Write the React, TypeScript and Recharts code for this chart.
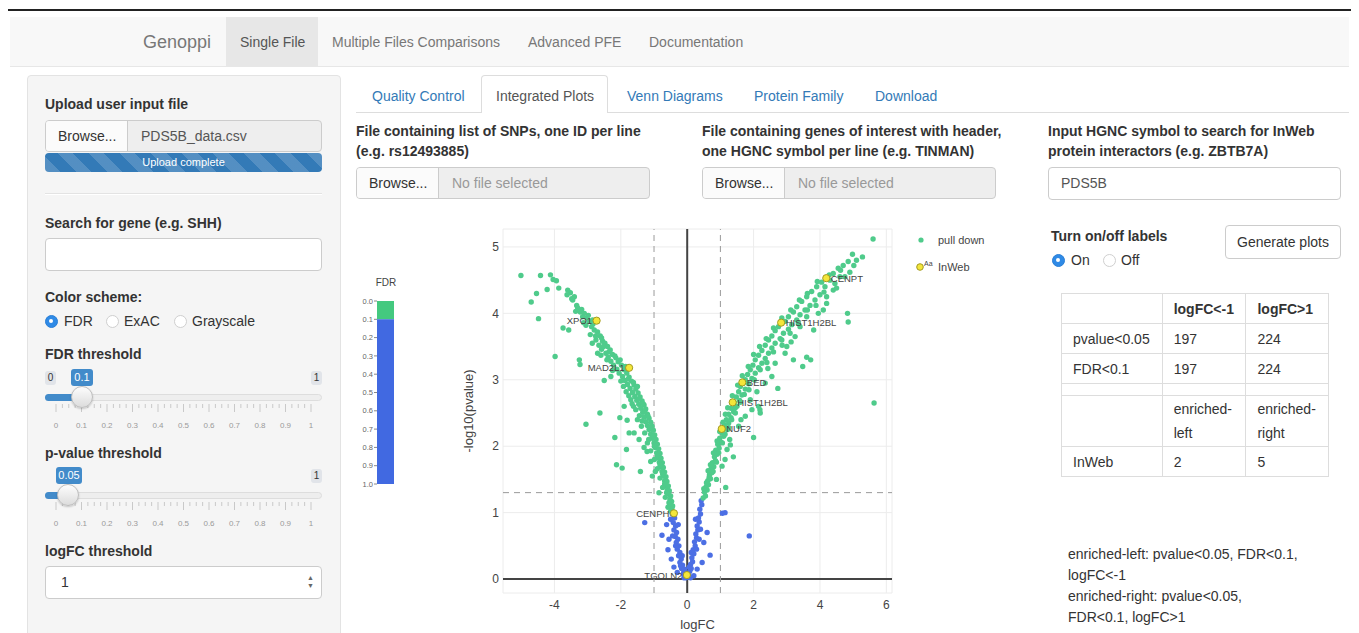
import React from "react";
import {
  ScatterChart,
  Scatter,
  XAxis,
  YAxis,
  CartesianGrid,
  ReferenceLine,
  BarChart,
  Bar,
} from "recharts";

// volcano plot values: [logFC, -log10(pvalue)]
// FDR < 0.1 (green)
const sigLeft: [number, number][] = [
  [-5.01, 4.57], [-4.42, 4.57], [-4.12, 4.58], [-4.04, 4.51], [-3.94, 4.49], [-3.87, 4.38],
  [-4.22, 4.36], [-4.54, 4.3], [-4.7, 4.17], [-4.48, 3.92], [-3.52, 4.31], [-3.45, 4.2],
  [-3.33, 4.12], [-3.74, 3.78], [-3.57, 3.75], [-3.98, 3.35], [-3.25, 3.3], [-3.23, 3.23],
  [-2.5, 2.99], [-3.05, 2.33], [-2.63, 2.5], [-2.18, 2.13], [-2.03, 2.43], [-1.81, 2.39],
  [-1.83, 1.95], [-2.13, 1.72], [-1.96, 1.67], [-1.41, 1.62], [-1.1, 1.77], [-0.96, 1.62],
  [-1.21, 1.92], [-3.3, 4.08], [-3.22, 4.02], [-3.1, 4.0], [-3.15, 3.95], [-3.02, 3.93],
  [-2.95, 3.88], [-3.05, 3.82], [-2.88, 3.8], [-2.8, 3.75], [-2.7, 3.72], [-2.92, 3.68],
  [-2.62, 3.66], [-2.75, 3.6], [-2.55, 3.58], [-2.48, 3.55], [-2.66, 3.52], [-2.4, 3.5],
  [-2.58, 3.46], [-2.32, 3.45], [-2.45, 3.4], [-2.25, 3.38], [-2.38, 3.34], [-2.15, 3.33],
  [-2.3, 3.28], [-2.08, 3.27], [-2.22, 3.22], [-1.98, 3.22], [-2.12, 3.16], [-1.9, 3.15],
  [-2.05, 3.1], [-1.82, 3.1], [-1.95, 3.05], [-1.75, 3.04], [-1.88, 2.99], [-1.68, 2.98],
  [-1.8, 2.93], [-1.6, 2.92], [-1.72, 2.87], [-1.55, 2.86], [-1.65, 2.81], [-1.48, 2.8],
  [-1.58, 2.75], [-1.42, 2.74], [-1.52, 2.69], [-1.36, 2.68], [-1.46, 2.63], [-1.3, 2.62],
  [-1.4, 2.57], [-1.25, 2.56], [-1.34, 2.51], [-1.62, 2.6], [-1.7, 2.7], [-1.2, 2.48],
  [-1.3, 2.44], [-1.15, 2.42], [-1.25, 2.37], [-1.1, 2.36], [-1.2, 2.31], [-1.06, 2.3],
  [-1.15, 2.25], [-1.02, 2.24], [-1.38, 2.3], [-1.5, 2.4], [-1.1, 2.18], [-0.98, 2.17],
  [-1.05, 2.12], [-0.94, 2.1], [-1.0, 2.05], [-0.9, 2.03], [-0.96, 1.98], [-0.86, 1.96],
  [-1.2, 2.05], [-1.3, 1.98], [-0.92, 1.9], [-0.82, 1.89], [-0.88, 1.83], [-0.79, 1.82],
  [-0.84, 1.76], [-0.75, 1.75], [-0.8, 1.69], [-0.72, 1.68], [-0.76, 1.62], [-0.68, 1.61],
  [-0.72, 1.55], [-0.64, 1.54], [-0.68, 1.48], [-0.61, 1.47], [-0.64, 1.41], [-0.57, 1.4],
  [-0.6, 1.34], [-0.54, 1.33], [-0.56, 1.28], [-0.5, 1.25], [-0.52, 1.2], [-0.47, 1.17],
  [-0.49, 1.12], [-0.44, 1.1], [-0.46, 1.06], [-2.85, 3.9], [-3.4, 4.25], [-3.6, 4.35],
  [-3.62, 4.28], [-3.48, 4.22], [-3.18, 4.06], [-3.36, 4.03], [-2.98, 3.97], [-3.12, 3.86],
  [-2.84, 3.84], [-2.76, 3.66], [-2.58, 3.63], [-2.86, 3.55], [-2.52, 3.5], [-2.36, 3.42],
  [-2.6, 3.37], [-2.18, 3.36], [-2.42, 3.3], [-2.02, 3.3], [-2.25, 3.14], [-1.86, 3.2],
  [-2.0, 2.98], [-1.78, 3.01], [-1.92, 2.9], [-1.62, 2.96], [-1.84, 2.82], [-1.5, 2.9],
  [-1.76, 2.76], [-1.45, 2.71], [-1.66, 2.64], [-1.33, 2.64], [-1.55, 2.55], [-1.28, 2.52],
  [-1.44, 2.46], [-1.18, 2.45], [-1.36, 2.38], [-1.12, 2.28], [-1.28, 2.2], [-1.04, 2.15],
  [-1.16, 2.1], [-0.99, 2.0], [-1.1, 1.93], [-0.9, 1.86], [-0.99, 1.8], [-0.82, 1.72],
  [-0.9, 1.66], [-0.74, 1.58], [-0.82, 1.52], [-0.68, 1.43], [-0.74, 1.38], [-0.62, 1.3],
  [-0.66, 1.23], [-0.55, 1.15], [-0.58, 1.08], [-0.5, 1.02], [-1.6, 2.2], [-1.75, 2.2],
  [-2.3, 3.05], [-2.7, 3.4], [-1.9, 2.6], [-1.45, 2.1], [-1.05, 1.55], [-0.85, 1.3],
];

const sigRight: [number, number][] = [
  [5.6, 5.12], [4.98, 4.89], [5.28, 4.85], [5.1, 4.8], [4.85, 4.78], [4.7, 4.72],
  [4.55, 4.68], [4.9, 4.62], [4.4, 4.6], [4.6, 4.55], [4.3, 4.5], [4.05, 4.47],
  [4.15, 4.4], [3.9, 4.4], [4.4, 4.35], [3.75, 4.33], [4.0, 4.28], [3.6, 4.25],
  [3.85, 4.2], [3.45, 4.18], [4.2, 4.15], [3.7, 4.12], [3.3, 4.1], [3.55, 4.05],
  [3.2, 4.02], [3.95, 4.0], [3.4, 3.98], [3.05, 3.95], [3.3, 3.9], [2.95, 3.88],
  [3.15, 3.83], [2.75, 3.8], [3.05, 3.76], [2.65, 3.74], [2.9, 3.7], [2.55, 3.66],
  [2.8, 3.62], [2.45, 3.6], [2.65, 3.55], [2.35, 3.52], [2.55, 3.48], [2.25, 3.44],
  [2.45, 3.4], [2.15, 3.37], [2.35, 3.32], [2.05, 3.3], [2.25, 3.25], [1.98, 3.22],
  [2.15, 3.18], [1.9, 3.15], [2.05, 3.1], [1.82, 3.08], [1.95, 3.02], [1.75, 3.0],
  [1.85, 2.94], [1.6, 2.9], [1.75, 2.86], [1.55, 2.82], [1.65, 2.77], [1.48, 2.74],
  [1.58, 2.69], [1.42, 2.66], [1.5, 2.6], [1.32, 2.57], [1.4, 2.52], [1.25, 2.48],
  [1.32, 2.43], [1.18, 2.4], [1.25, 2.35], [1.12, 2.32], [1.18, 2.26], [1.05, 2.2],
  [1.1, 2.15], [0.98, 2.12], [1.02, 2.06], [0.92, 2.03], [0.96, 1.97], [0.86, 1.94],
  [0.9, 1.88], [0.82, 1.84], [0.85, 1.78], [0.76, 1.75], [0.8, 1.69], [0.72, 1.66],
  [0.74, 1.6], [0.67, 1.57], [0.7, 1.51], [0.62, 1.48], [0.64, 1.42], [0.57, 1.39],
  [0.6, 1.34], [0.52, 1.31], [0.55, 1.25], [0.48, 1.22], [2.2, 2.5], [2.15, 2.6],
  [2.0, 2.13], [1.39, 1.84], [1.14, 1.8], [1.16, 1.38], [2.43, 3.17], [2.73, 2.87],
  [3.13, 3.57], [3.48, 3.2], [3.6, 3.34], [3.72, 3.3], [3.81, 3.75], [4.83, 4.0],
  [4.85, 3.87], [5.63, 2.65], [2.19, 2.55], [1.9, 2.7], [2.55, 3.05], [2.95, 3.4],
  [3.25, 3.65], [3.6, 3.95], [4.2, 4.25], [4.45, 4.45], [1.75, 2.45], [1.55, 2.3],
  [1.28, 2.1], [1.2, 1.95], [2.85, 3.6], [3.4, 3.8], [1.22, 2.25], [1.45, 2.5],
  [0.5, 1.36], [0.58, 1.45], [0.66, 1.53], [0.63, 1.63], [0.78, 1.62], [0.7, 1.72],
  [0.88, 1.76], [0.79, 1.9], [0.95, 1.9], [0.9, 2.08], [1.06, 2.05], [0.98, 2.22],
  [1.14, 2.18], [1.08, 2.36], [1.25, 2.28], [1.15, 2.48], [1.34, 2.4], [1.22, 2.58],
  [1.45, 2.58], [1.36, 2.76], [1.6, 2.66], [1.52, 2.92], [1.72, 2.78], [1.66, 3.06],
  [1.86, 2.85], [1.84, 3.2], [2.02, 3.0], [2.0, 3.38], [2.2, 3.15], [2.18, 3.5],
  [2.4, 3.26], [2.38, 3.62], [2.6, 3.42], [2.6, 3.78], [2.86, 3.52], [2.85, 3.93],
  [3.1, 3.7], [3.12, 4.05], [3.35, 3.85], [3.38, 4.2], [3.62, 4.05], [3.62, 4.3],
  [3.88, 4.12], [3.92, 4.48], [4.12, 4.32], [4.28, 4.58], [4.5, 4.38], [4.62, 4.65],
  [4.75, 4.55], [5.02, 4.72], [1.95, 2.55], [2.35, 2.95], [2.65, 3.25], [3.0, 3.5],
  [1.62, 2.4], [1.3, 2.02], [1.05, 1.7], [0.88, 1.5], [2.1, 2.82], [3.2, 3.3],
  [4.1, 4.05],
];

// FDR >= 0.1 (blue)
const nonSig: [number, number][] = [
  [-0.45, 0.98], [-0.38, 0.92], [-0.42, 0.85], [-0.35, 0.8], [-0.4, 0.74], [-0.32, 0.7],
  [-0.36, 0.64], [-0.28, 0.6], [-0.33, 0.55], [-0.25, 0.5], [-0.3, 0.45], [-0.22, 0.4],
  [-0.26, 0.35], [-0.18, 0.3], [-0.22, 0.25], [-0.14, 0.21], [-0.17, 0.16], [-0.1, 0.12],
  [-0.12, 0.08], [-0.06, 0.05], [-0.04, 0.02], [-1.28, 0.85], [-0.76, 0.66], [-0.62, 0.82],
  [-0.55, 0.6], [-0.5, 0.9], [-0.58, 0.44], [-0.48, 0.3], [-0.4, 0.18], [-0.3, 0.1],
  [0.02, 0.03], [0.05, 0.08], [0.08, 0.12], [0.12, 0.16], [0.1, 0.22], [0.16, 0.26],
  [0.14, 0.32], [0.2, 0.38], [0.18, 0.44], [0.24, 0.5], [0.22, 0.56], [0.28, 0.62],
  [0.26, 0.68], [0.32, 0.74], [0.3, 0.8], [0.36, 0.86], [0.34, 0.92], [0.4, 0.98],
  [0.38, 1.05], [0.44, 1.12], [0.42, 1.18], [1.14, 1.0], [1.06, 0.99], [1.87, 0.65],
  [0.69, 0.36], [0.5, 0.55], [0.45, 0.25], [0.3, 0.15], [0.6, 0.7], [0.2, 0.05],
  [-0.2, 0.2], [-0.08, 0.15], [0.06, 0.18], [-0.35, 0.5], [0.28, 0.45], [-0.44, 0.65],
  [0.36, 0.6], [-0.15, 0.35], [0.12, 0.4], [0.4, 0.75], [-0.27, 0.82], [0.25, 0.9],
  [-0.1, 0.02], [0.1, 0.02],
];

// InWeb interactors of PDS5B
const inwebGenes = ["XPO1", "MAD2L1", "CENPH", "TGOLN2", "CENPT", "HIST1H2BL", "BED", "HIST1H2BL", "NUF2"];
const inwebLogFC = [-2.73, -1.75, -0.4, -0.01, 4.19, 2.83, 1.66, 1.37, 1.04];
const inwebLogP = [3.89, 3.18, 0.99, 0.06, 4.53, 3.86, 2.96, 2.66, 2.26];

const xTicks = [-4, -2, 0, 2, 4, 6];
const yTicks = [0, 1, 2, 3, 4, 5];
const fdrTicks = [0, 0.1, 0.2, 0.3, 0.4, 0.5, 0.6, 0.7, 0.8, 0.9, 1];
const fdrCut = 0.1;
const pvalCut = 0.05;
const logfcCut = 1;
const sliderLabels = ["0", "0.1", "0.2", "0.3", "0.4", "0.5", "0.6", "0.7", "0.8", "0.9", "1"];

const tableHead = ["", "logFC<-1", "logFC>1"];
const tableRows = [
  ["pvalue<0.05", "197", "224"],
  ["FDR<0.1", "197", "224"],
];
const inwebRow = ["InWeb", "2", "5"];

const navItems = ["Single File", "Multiple Files Comparisons", "Advanced PFE", "Documentation"];
const tabItems = ["Quality Control", "Integrated Plots", "Venn Diagrams", "Protein Family", "Download"];

const FONT = "'Liberation Sans', Arial, Helvetica, sans-serif";
const GREEN = "#4fcb8b";
const BLUE = "#4c6fe4";
const LINK = "#337ab7";

const toPts = (arr: [number, number][]) => arr.map(([x, y]) => ({ x, y }));
const inwebData = inwebGenes.map((g, i) => ({ x: inwebLogFC[i], y: inwebLogP[i], label: g }));
const fdrBar = [{ name: "FDR", sig: fdrCut, ns: 1 - fdrCut }];

const Txt = ({ x, y, children, bold, size = 14, color = "#333", center }: any) => (
  <div
    style={{
      position: "absolute",
      left: x,
      top: y - 10,
      lineHeight: "20px",
      fontSize: size,
      fontWeight: bold ? 700 : 400,
      color,
      whiteSpace: "nowrap",
      transform: center ? "translateX(-50%)" : undefined,
    }}
  >
    {children}
  </div>
);

const Box = ({ x, y, w, h, style, children }: any) => (
  <div style={{ position: "absolute", left: x, top: y, width: w, height: h, boxSizing: "border-box", ...style }}>
    {children}
  </div>
);

const Radio = ({ x, y, on }: any) => (
  <div
    style={{
      position: "absolute",
      left: x - 6.5,
      top: y - 6.5,
      width: 13,
      height: 13,
      borderRadius: "50%",
      boxSizing: "border-box",
      background: on ? "#2f8ae6" : "#fff",
      border: on ? "1px solid #2a7fd6" : "1px solid #cfcfcf",
    }}
  >
    {on && (
      <div style={{ position: "absolute", left: 3.5, top: 3.5, width: 4, height: 4, borderRadius: "50%", background: "#fff" }} />
    )}
  </div>
);

const FileInput = ({ x, y, w, text, textColor }: any) => (
  <Box x={x} y={y} w={w} h={32} style={{ border: "1px solid #ccc", borderRadius: 4, background: "#eee", overflow: "hidden" }}>
    <div style={{ position: "absolute", left: 0, top: 0, width: 82, height: 30, background: "#fbfbfb", borderRight: "1px solid #ccc", lineHeight: "30px", paddingLeft: 12, boxSizing: "border-box", color: "#333" }}>
      Browse...
    </div>
    <div style={{ position: "absolute", left: 95, top: 0, lineHeight: "30px", color: textColor }}>{text}</div>
  </Box>
);

const Slider = ({ trackY, handleX, value, valueX, valueW, showZero }: any) => {
  const left = 45;
  const right = 322;
  const t0 = 56;
  const step = 25.5;
  const minor = Array.from({ length: 41 }, (_, i) => i);
  return (
    <>
      {showZero && (
        <Box x={45} y={trackY - 26} w={11} h={14} style={{ background: "#e1e4e9", borderRadius: 3, fontSize: 10, color: "#333", textAlign: "center", lineHeight: "14px" }}>0</Box>
      )}
      <Box x={valueX} y={trackY - 28} w={valueW} h={17} style={{ background: "#428bca", borderRadius: 3, fontSize: 11, color: "#fff", textAlign: "center", lineHeight: "17px" }}>{value}</Box>
      <Box x={311} y={trackY - 26} w={11} h={14} style={{ background: "#e1e4e9", borderRadius: 3, fontSize: 10, color: "#333", textAlign: "center", lineHeight: "14px" }}>1</Box>
      <Box x={left} y={trackY - 3.5} w={right - left} h={7} style={{ background: "#eee", border: "1px solid #ddd", borderRadius: 4 }} />
      <Box x={left} y={trackY - 3.5} w={handleX - left} h={7} style={{ background: "#428bca", borderRadius: 4 }} />
      <svg style={{ position: "absolute", left: 0, top: trackY + 5, overflow: "visible" }} width={340} height={30}>
        {minor.map((i) => {
          const x = t0 + (i * step) / 4;
          const major = i % 4 === 0;
          return <line key={i} x1={x} x2={x} y1={2} y2={major ? 10 : 6} stroke="#c9c9c9" strokeWidth={1} />;
        })}
        {sliderLabels.map((l, i) => (
          <text key={l} x={t0 + i * step} y={26} fontSize={8} fill="#9a9a9a" textAnchor="middle" fontFamily={FONT}>
            {l}
          </text>
        ))}
      </svg>
      <Box x={handleX - 11} y={trackY - 11} w={22} h={22} style={{ borderRadius: "50%", background: "linear-gradient(#fdfdfd, #dcdcdc)", border: "1px solid #bdbdbd", boxShadow: "0 1px 2px rgba(0,0,0,0.2)" }} />
    </>
  );
};

const Dot = (color: string, r: number) => (p: any) => <circle cx={p.cx} cy={p.cy} r={r} fill={color} />;

const InWebDot = (p: any) => {
  const left = p.payload.x < 0;
  return (
    <g>
      <circle cx={p.cx} cy={p.cy} r={3.6} fill="#f4e63a" stroke="#a39a22" strokeWidth={1} />
      <text x={left ? p.cx - 4.5 : p.cx + 4.5} y={p.cy + 3.5} textAnchor={left ? "end" : "start"} fontSize={9.5} fill="#444" fontFamily={FONT}>
        {p.payload.label}
      </text>
    </g>
  );
};

const Volcano = () => (
  <div style={{ position: "absolute", left: 433, top: 220 }}>
    <ScatterChart width={467} height={413} margin={{ top: 9, right: 8, left: 0, bottom: 0 }}>
      <CartesianGrid stroke="#ececec" strokeWidth={1} />
      <XAxis
        type="number"
        dataKey="x"
        domain={[-5.55, 6.17]}
        ticks={xTicks}
        allowDataOverflow
        axisLine={false}
        tickLine={false}
        tickSize={0}
        tickMargin={7}
        height={40}
        tick={{ fontSize: 12, fill: "#444", fontFamily: FONT }}
        label={{ value: "logFC", position: "insideBottom", offset: 4, style: { fontSize: 13, fill: "#444", fontFamily: FONT } }}
      />
      <YAxis
        type="number"
        dataKey="y"
        domain={[-0.21, 5.27]}
        ticks={yTicks}
        allowDataOverflow
        axisLine={false}
        tickLine={false}
        tickSize={0}
        tickMargin={4}
        width={70}
        tick={{ fontSize: 12, fill: "#444", fontFamily: FONT }}
        label={{ value: "-log10(pvalue)", angle: -90, position: "center", style: { fontSize: 13, fill: "#444", fontFamily: FONT } }}
      />
      <ReferenceLine x={0} stroke="#444" strokeWidth={2} />
      <ReferenceLine y={0} stroke="#444" strokeWidth={2} />
      <ReferenceLine x={-logfcCut} stroke="#9a9a9a" strokeDasharray="6 5" />
      <ReferenceLine x={logfcCut} stroke="#9a9a9a" strokeDasharray="6 5" />
      <ReferenceLine y={-Math.log10(pvalCut)} stroke="#9a9a9a" strokeDasharray="6 5" />
      <Scatter data={toPts(nonSig)} shape={Dot(BLUE, 2.7)} isAnimationActive={false} />
      <Scatter data={toPts(sigLeft)} shape={Dot(GREEN, 2.7)} isAnimationActive={false} />
      <Scatter data={toPts(sigRight)} shape={Dot(GREEN, 2.7)} isAnimationActive={false} />
      <Scatter data={inwebData} shape={InWebDot} isAnimationActive={false} />
    </ScatterChart>
  </div>
);

const FdrBar = () => (
  <div style={{ position: "absolute", left: 347, top: 293 }}>
    <BarChart width={64} height={200} data={fdrBar} margin={{ top: 8, right: 17, left: 0, bottom: 9 }} barCategoryGap={0}>
      <XAxis dataKey="name" hide />
      <YAxis
        type="number"
        reversed
        domain={[0, 1]}
        ticks={fdrTicks}
        width={30}
        axisLine={false}
        tickSize={3}
        tickMargin={1}
        tickLine={{ stroke: "#888" }}
        tickFormatter={(v: number) => v.toFixed(1)}
        tick={{ fontSize: 7.5, fill: "#666", fontFamily: FONT }}
        interval={0}
      />
      <Bar dataKey="sig" stackId="a" fill="#44c97f" isAnimationActive={false} />
      <Bar dataKey="ns" stackId="a" fill="#4169e1" isAnimationActive={false} />
    </BarChart>
  </div>
);

export default function App() {
  return (
    <div style={{ position: "relative", width: 1359, height: 633, overflow: "hidden", background: "#fff", fontFamily: FONT, fontSize: 14, color: "#333" }}>
      <style>{"body{margin:0}"}</style>
      {/* top rule */}
      <Box x={8} y={9} w={1343} h={2} style={{ background: "#222" }} />
      {/* navbar */}
      <Box x={10} y={17} w={1339} h={50} style={{ background: "#f8f8f8", borderBottom: "1px solid #e7e7e7" }} />
      <Txt x={143} y={42} size={18} color="#777">Genoppi</Txt>
      <Box x={226} y={17} w={92} h={50} style={{ background: "#e7e7e7" }} />
      <Txt x={240} y={42} color="#555">{navItems[0]}</Txt>
      <Txt x={332} y={42} color="#777">{navItems[1]}</Txt>
      <Txt x={528} y={42} color="#777">{navItems[2]}</Txt>
      <Txt x={649} y={42} color="#777">{navItems[3]}</Txt>

      {/* sidebar */}
      <Box x={27} y={75} w={314} h={580} style={{ background: "#f5f5f5", border: "1px solid #e3e3e3", borderRadius: 4 }} />
      <Txt x={45} y={104} bold>Upload user input file</Txt>
      <FileInput x={45} y={120} w={277} text="PDS5B_data.csv" textColor="#555" />
      <Box
        x={45}
        y={153}
        w={277}
        h={19}
        style={{
          borderRadius: 4,
          background: "#337ab7",
          backgroundImage: "repeating-linear-gradient(45deg, rgba(255,255,255,0.16) 0 11px, transparent 11px 22px)",
          color: "#fff",
          fontSize: 11,
          textAlign: "center",
          lineHeight: "19px",
        }}
      >
        Upload complete
      </Box>
      <Box x={45} y={193} w={277} h={2} style={{ borderTop: "1px solid #e3e3e3", borderBottom: "1px solid #fff" }} />
      <Txt x={45} y={223} bold>Search for gene (e.g. SHH)</Txt>
      <Box x={45} y={238} w={277} h={33} style={{ background: "#fff", border: "1px solid #ccc", borderRadius: 4 }} />
      <Txt x={45} y={297} bold>Color scheme:</Txt>
      <Radio x={51} y={321} on />
      <Txt x={64} y={321}>FDR</Txt>
      <Radio x={112} y={321} />
      <Txt x={124} y={321}>ExAC</Txt>
      <Radio x={180} y={321} />
      <Txt x={192} y={321}>Grayscale</Txt>
      <Txt x={45} y={354} bold>FDR threshold</Txt>
      <Slider trackY={397} handleX={82} value={String(fdrCut)} valueX={71} valueW={22} showZero />
      <Txt x={45} y={453} bold>p-value threshold</Txt>
      <Slider trackY={495} handleX={68} value={String(pvalCut)} valueX={56} valueW={26} />
      <Txt x={45} y={551} bold>logFC threshold</Txt>
      <Box x={45} y={566} w={277} h={33} style={{ background: "#fff", border: "1px solid #ccc", borderRadius: 4 }}>
        <div style={{ position: "absolute", left: 15, top: 0, lineHeight: "31px" }}>{logfcCut}</div>
        <div style={{ position: "absolute", right: 7, top: 7, fontSize: 7, lineHeight: "8px", color: "#666" }}>
          ▲<br />▼
        </div>
      </Box>

      {/* tabs */}
      <Box x={356} y={112} w={993} h={1} style={{ background: "#ddd" }} />
      <Box x={481} y={75} w={127} h={38} style={{ background: "#fff", border: "1px solid #ddd", borderBottom: "none", borderRadius: "4px 4px 0 0" }} />
      <Txt x={372} y={96} color={LINK}>{tabItems[0]}</Txt>
      <Txt x={496} y={96} color="#555">{tabItems[1]}</Txt>
      <Txt x={627} y={96} color={LINK}>{tabItems[2]}</Txt>
      <Txt x={754} y={96} color={LINK}>{tabItems[3]}</Txt>
      <Txt x={875} y={96} color={LINK}>{tabItems[4]}</Txt>

      {/* input rows */}
      <Txt x={356} y={131} bold>File containing list of SNPs, one ID per line</Txt>
      <Txt x={356} y={151} bold>(e.g. rs12493885)</Txt>
      <FileInput x={356} y={167} w={294} text="No file selected" textColor="#999" />
      <Txt x={702} y={131} bold>File containing genes of interest with header,</Txt>
      <Txt x={702} y={151} bold>one HGNC symbol per line (e.g. TINMAN)</Txt>
      <FileInput x={702} y={167} w={294} text="No file selected" textColor="#999" />
      <Txt x={1048} y={131} bold>Input HGNC symbol to search for InWeb</Txt>
      <Txt x={1048} y={151} bold>protein interactors (e.g. ZBTB7A)</Txt>
      <Box x={1048} y={167} w={293} h={33} style={{ background: "#fff", border: "1px solid #ccc", borderRadius: 4 }}>
        <div style={{ position: "absolute", left: 12, top: 0, lineHeight: "31px", color: "#555" }}>PDS5B</div>
      </Box>

      {/* plot */}
      <Txt x={386} y={283} size={10} color="#444" center>FDR</Txt>
      <FdrBar />
      <Volcano />
      <svg style={{ position: "absolute", left: 910, top: 228 }} width={100} height={50}>
        <circle cx={11} cy={12} r={2.6} fill={GREEN} />
        <text x={28} y={16} fontSize={11} fill="#444" fontFamily={FONT}>pull down</text>
        <circle cx={10} cy={39} r={3.3} fill="#f4e63a" stroke="#a39a22" strokeWidth={1} />
        <text x={14} y={38} fontSize={7} fill="#444" fontFamily={FONT}>Aa</text>
        <text x={28} y={43} fontSize={11} fill="#444" fontFamily={FONT}>InWeb</text>
      </svg>

      {/* right panel */}
      <Txt x={1051} y={236} bold>Turn on/off labels</Txt>
      <Radio x={1058} y={260} on />
      <Txt x={1071} y={260}>On</Txt>
      <Radio x={1109} y={260} />
      <Txt x={1121} y={260}>Off</Txt>
      <Box x={1225} y={225} w={116} h={34} style={{ background: "#fff", border: "1px solid #ccc", borderRadius: 4, textAlign: "center", lineHeight: "32px" }}>
        Generate plots
      </Box>

      <table
        style={{
          position: "absolute",
          left: 1061,
          top: 293,
          width: 268,
          borderCollapse: "collapse",
          fontSize: 14,
          color: "#333",
        }}
      >
        <colgroup>
          <col style={{ width: 101 }} />
          <col style={{ width: 84 }} />
          <col style={{ width: 83 }} />
        </colgroup>
        <tbody>
          <tr style={{ height: 30 }}>
            {tableHead.map((h, i) => (
              <td key={i} style={{ border: "1px solid #ddd", padding: "0 11px", fontWeight: 700 }}>{h}</td>
            ))}
          </tr>
          {tableRows.map((r, i) => (
            <tr key={i} style={{ height: 30 }}>
              {r.map((c, j) => (
                <td key={j} style={{ border: "1px solid #ddd", padding: "0 11px" }}>{c}</td>
              ))}
            </tr>
          ))}
          <tr style={{ height: 12 }}>
            <td style={{ border: "1px solid #ddd", padding: 0 }} />
            <td style={{ border: "1px solid #ddd", padding: 0 }} />
            <td style={{ border: "1px solid #ddd", padding: 0 }} />
          </tr>
          <tr style={{ height: 51 }}>
            <td style={{ border: "1px solid #ddd" }} />
            <td style={{ border: "1px solid #ddd", padding: "0 11px", lineHeight: "24px" }}>enriched-<br />left</td>
            <td style={{ border: "1px solid #ddd", padding: "0 11px", lineHeight: "24px" }}>enriched-<br />right</td>
          </tr>
          <tr style={{ height: 30 }}>
            {inwebRow.map((c, j) => (
              <td key={j} style={{ border: "1px solid #ddd", padding: "0 11px" }}>{c}</td>
            ))}
          </tr>
        </tbody>
      </table>

      <Txt x={1068} y={554}>enriched-left: pvalue&lt;0.05, FDR&lt;0.1,</Txt>
      <Txt x={1068} y={575}>logFC&lt;-1</Txt>
      <Txt x={1068} y={596}>enriched-right: pvalue&lt;0.05,</Txt>
      <Txt x={1068} y={617}>FDR&lt;0.1, logFC&gt;1</Txt>
    </div>
  );
}
